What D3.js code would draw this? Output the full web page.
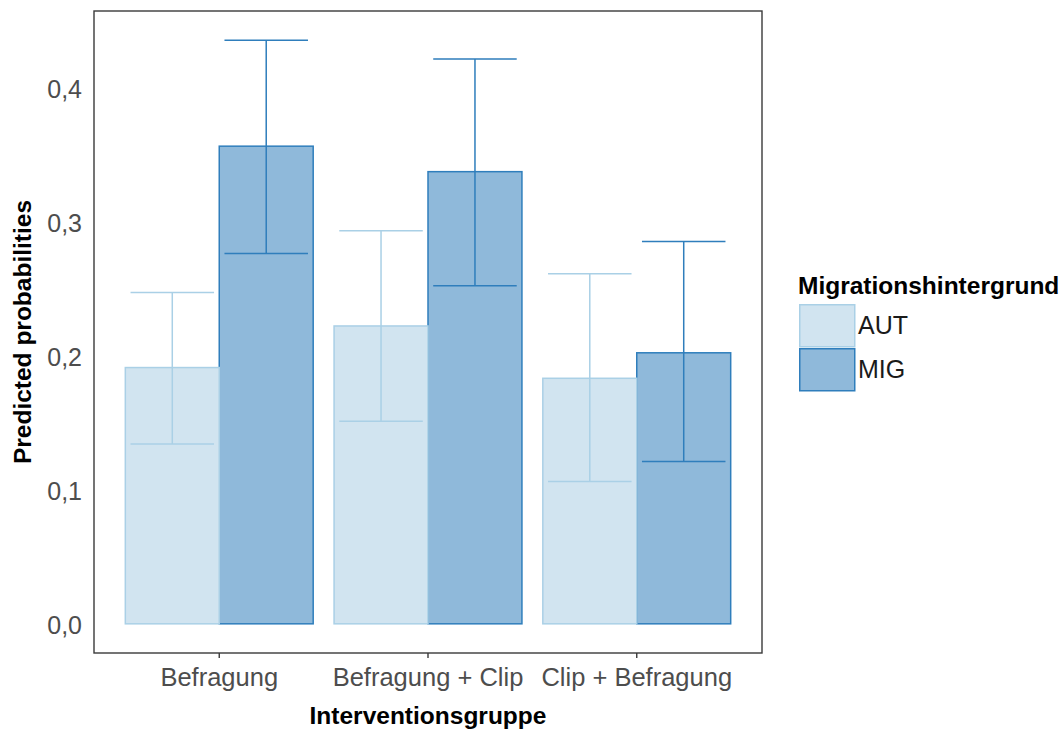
<!DOCTYPE html>
<html>
<head>
<meta charset="utf-8">
<script src="https://cdn.jsdelivr.net/npm/d3@7"></script>
<style>
  body { margin: 0; background: #fff; }
  text { font-family: "Liberation Sans", Arial, sans-serif; }
</style>
</head>
<body>
<div id="chart-area"></div>
<script>
// data
const categories = ["Befragung", "Befragung + Clip", "Clip + Befragung"];
const groups = ["AUT", "MIG"];
const autValues = [0.191, 0.222, 0.183];
const autLower  = [0.134, 0.151, 0.106];
const autUpper  = [0.247, 0.293, 0.261];
const migValues = [0.356, 0.337, 0.202];
const migLower  = [0.276, 0.252, 0.121];
const migUpper  = [0.435, 0.421, 0.285];
const yTicks = [0, 0.1, 0.2, 0.3, 0.4];

const fills   = { AUT: "#d1e4f0", MIG: "#8fb9da" };
const strokes = { AUT: "#aad0e6", MIG: "#2f7ebc" };

const full_width = 1062, full_height = 729;
const panel = { left: 94, right: 762, top: 11, bottom: 653 };

const rows = [];
categories.forEach((c, i) => {
    rows.push({ cat: c, grp: "MIG", value: migValues[i], lo: migLower[i], hi: migUpper[i] });
    rows.push({ cat: c, grp: "AUT", value: autValues[i], lo: autLower[i], hi: autUpper[i] });
});

const svg = d3.select("#chart-area")
    .append("svg")
    .attr("width", full_width)
    .attr("height", full_height);

// ggplot-like scales: discrete expand 0.6, continuous 5%
const x = d3.scaleBand()
    .domain(categories)
    .range([panel.left, panel.right])
    .paddingInner(0)
    .paddingOuter(0.1);

const step = x.step();
const x1 = d3.scaleBand()
    .domain(groups)
    .range([0.05 * step, 0.95 * step]);

const yMax = d3.max(rows, d => d.hi);
const pad = yMax * 0.05;
const y = d3.scaleLinear()
    .domain([-pad, yMax + pad])
    .range([panel.bottom, panel.top]);

const locale = d3.formatLocale({ decimal: ",", thousands: ".", grouping: [3], currency: ["", "€"] });
const fmt = locale.format(".1f");

// bars (MIG first so the AUT outline sits on top at the shared edge)
svg.append("g").selectAll("rect")
    .data(rows)
    .enter()
    .append("rect")
        .attr("x", d => x(d.cat) + x1(d.grp))
        .attr("y", d => y(d.value))
        .attr("width", x1.bandwidth())
        .attr("height", d => y(0) - y(d.value))
        .attr("fill", d => fills[d.grp])
        .attr("stroke", d => strokes[d.grp])
        .attr("stroke-width", 1.5);

// error bars
const ebHalf = 0.2 * step;
const eb = svg.append("g").selectAll("g")
    .data(rows)
    .enter()
    .append("g")
        .attr("stroke", d => strokes[d.grp])
        .attr("stroke-width", 1.5)
        .attr("fill", "none");

eb.append("path")
    .attr("d", d => {
        const cx = x(d.cat) + x1(d.grp) + x1.bandwidth() / 2;
        return "M" + (cx - ebHalf) + "," + y(d.hi) + "H" + (cx + ebHalf) +
               "M" + cx + "," + y(d.hi) + "V" + y(d.lo) +
               "M" + (cx - ebHalf) + "," + y(d.lo) + "H" + (cx + ebHalf);
    });

// panel border
svg.append("rect")
    .attr("x", panel.left)
    .attr("y", panel.top)
    .attr("width", panel.right - panel.left)
    .attr("height", panel.bottom - panel.top)
    .attr("fill", "none")
    .attr("stroke", "#3a3a3a")
    .attr("stroke-width", 1.4);

// y axis
const yAxisCall = d3.axisLeft(y)
    .tickValues(yTicks)
    .tickSize(0)
    .tickPadding(12)
    .tickFormat(fmt);
const yAxis = svg.append("g")
    .attr("transform", "translate(" + panel.left + ",0)")
    .call(yAxisCall);
yAxis.select(".domain").remove();
yAxis.selectAll("text")
    .attr("font-size", "25px")
    .attr("fill", "#4d4d4d")
    .attr("dy", "0.4em");

// x axis
const xAxisCall = d3.axisBottom(x)
    .tickSize(5)
    .tickPadding(10);
const xAxis = svg.append("g")
    .attr("transform", "translate(0," + panel.bottom + ")")
    .call(xAxisCall);
xAxis.select(".domain").remove();
xAxis.selectAll("line")
    .attr("stroke", "#3a3a3a")
    .attr("stroke-width", 1.4);
xAxis.selectAll("text")
    .attr("font-size", "25.5px")
    .attr("fill", "#4d4d4d");

// X Label
svg.append("text")
    .attr("x", (panel.left + panel.right) / 2)
    .attr("y", 724)
    .attr("font-size", "24.5px")
    .attr("font-weight", "bold")
    .attr("text-anchor", "middle")
    .text("Interventionsgruppe");

// Y Label
svg.append("text")
    .attr("x", -(panel.top + panel.bottom) / 2)
    .attr("y", 31)
    .attr("font-size", "24.5px")
    .attr("font-weight", "bold")
    .attr("text-anchor", "middle")
    .attr("transform", "rotate(-90)")
    .text("Predicted probabilities");

// legend
const legend = svg.append("g")
    .attr("transform", "translate(799,0)");
legend.append("text")
    .attr("x", -1)
    .attr("y", 294)
    .attr("font-size", "24.5px")
    .attr("font-weight", "bold")
    .text("Migrationshintergrund");

const keys = legend.selectAll("g.key")
    .data(groups)
    .enter()
    .append("g")
        .attr("class", "key")
        .attr("transform", (d, i) => "translate(0," + (304 + i * 44) + ")");
keys.append("rect")
    .attr("x", 0.75)
    .attr("y", 0.75)
    .attr("width", 55)
    .attr("height", 42)
    .attr("fill", d => fills[d])
    .attr("stroke", d => strokes[d])
    .attr("stroke-width", 1.5);
keys.append("text")
    .attr("x", 59)
    .attr("y", 30)
    .attr("font-size", "25px")
    .attr("fill", "#1a1a1a")
    .text(d => d);
</script>
</body>
</html>
